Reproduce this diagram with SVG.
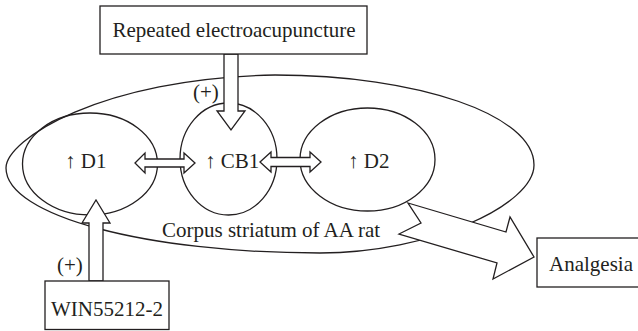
<svg xmlns="http://www.w3.org/2000/svg" width="638" height="331" viewBox="0 0 638 331">
<style>
.ln{fill:none;stroke:#231f20;stroke-width:1.3}
.bx{fill:#fff;stroke:#231f20;stroke-width:1.3}
.ar{fill:#fff;stroke:#231f20;stroke-width:1.3;stroke-linejoin:miter}
.t{font-family:"Liberation Serif","Times New Roman",serif;font-size:21px;fill:#231f20}
</style>
<rect width="638" height="331" fill="#fff"/>
<g id="striatum">
<path class="ln" d="M6,168 C6,140 100,78 275,75 C418,75 534,115 534,165 C534,205 430,253 320,253 C147,253 6,216 6,168 Z"/>
<text class="t" x="162" y="237">Corpus striatum of AA rat</text>
</g>
<g id="d1">
<ellipse class="ln" cx="90" cy="164" rx="67.5" ry="51"/>
<text class="t" x="65" y="168">↑ D1</text>
</g>
<g id="cb1">
<ellipse class="ln" cx="228.5" cy="159" rx="48.5" ry="56"/>
<text class="t" x="205" y="168">↑ CB1</text>
</g>
<g id="d2">
<ellipse class="ln" cx="367.5" cy="159.5" rx="67.5" ry="51.5"/>
<text class="t" x="348" y="168">↑ D2</text>
</g>
<g id="connectors">
<polygon class="ar" points="135,163 145,153 145,159 184,159 184,153 195,163 184,173 184,167 145,167 145,173"/>
<polygon class="ar" points="260,162 271,152 271,157.5 310,157.5 310,152 321,162 310,172 310,166.5 271,166.5 271,172"/>
<polygon class="ar" points="224,54 238,54 238,111 245,111 231,130 217,111 224,111"/>
<polygon class="ar" points="89,281 89,223 82,223 96,200 110,223 103,223 103,281"/>
<polygon class="ar" points="408,203 506,232 510,217 534,257 493,279 497,263 399,234 421,223"/>
<text class="t" x="193" y="99">(+)</text>
<text class="t" x="57" y="272">(+)</text>
</g>
<g id="electroacupuncture">
<rect class="bx" x="100" y="6" width="267" height="48"/>
<text class="t" x="234" y="37" text-anchor="middle">Repeated electroacupuncture</text>
</g>
<g id="win">
<rect class="bx" x="45" y="281" width="124" height="48.5"/>
<text class="t" x="107" y="316" text-anchor="middle">WIN55212-2</text>
</g>
<g id="analgesia">
<rect class="bx" x="537" y="238" width="110" height="49"/>
<text class="t" x="591" y="271" text-anchor="middle">Analgesia</text>
</g>
</svg>
